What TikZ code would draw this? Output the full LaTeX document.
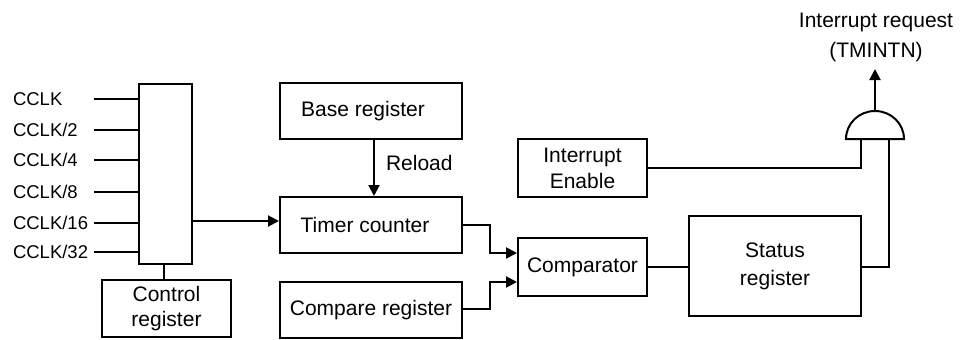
\documentclass[tikz,border=0pt]{standalone}
\usepackage{fontspec}
\setmainfont{Liberation Sans}
\usetikzlibrary{arrows.meta}
\begin{document}
\begin{tikzpicture}[x=1pt,y=-1pt,
  line width=2pt,
  box/.style={draw,rectangle,inner sep=0pt,align=center,font=\fontsize{21}{26}\selectfont},
  lbl/.style={inner sep=0pt,font=\fontsize{21}{26}\selectfont,align=center},
  clk/.style={inner sep=0pt,anchor=west,font=\fontsize{18.5}{22}\selectfont},
  wire/.style={line width=2pt},
  arr/.style={wire,-{Triangle[length=11pt,width=11pt]}}]
\useasboundingbox (0,0) rectangle (964,340);

% boxes
\node[box,minimum width=53pt,minimum height=180pt] (mux) at (165.5,174) {};
\node[box,minimum width=129pt,minimum height=57pt,font=\fontsize{21}{25.6}\selectfont] (ctrl) at (166.5,308.5) {Control\\register};
\node[box,minimum width=182pt,minimum height=56pt] (base) at (371,111) {\hspace*{-16pt}Base register};
\node[box,minimum width=182pt,minimum height=56pt] (timer) at (371,225) {\hspace*{-12pt}Timer counter};
\node[box,minimum width=182pt,minimum height=56pt] (cmpreg) at (371,310) {Compare register};
\node[box,minimum width=129pt,minimum height=58pt] (comp) at (582.5,267) {Comparator};
\node[box,minimum width=129pt,minimum height=58pt] (ie) at (582.5,168) {Interrupt\\Enable};
\node[box,minimum width=172pt,minimum height=100pt,font=\fontsize{21}{28}\selectfont] (status) at (775,266) {Status\\register};

% clock inputs
\foreach \n/\t/\y in {1/CCLK/99,2/CCLK\slash 2/130,3/CCLK\slash 4/160,4/CCLK\slash 8/192,5/CCLK\slash 16/223,6/CCLK\slash 32/252}{
  \node[clk] (l\n) at (12,\y) {\t};
  \coordinate (in\n) at (94,\y);
  \draw[wire] (in\n) -- (in\n -| mux.west);
}

% mux connections
\draw[arr] (mux.east |- 0,221) -- (timer.west |- 0,221);
\draw[wire] (mux.south -| 164,0) -- (ctrl.north -| 164,0);

% reload
\draw[arr] (base.south -| 374,0) -- (timer.north -| 374,0);
\node[lbl,anchor=west] (reload) at (385,163) {Reload};

% to comparator
\coordinate (j1) at (490,225);
\coordinate (j2) at (490,309);
\draw[arr] (timer.east |- j1) -- (j1) |- (comp.west |- 0,253);
\draw[arr] (cmpreg.east |- j2) -- (j2) |- (comp.west |- 0,282);

% comparator to status
\draw[wire] (comp.east |- 0,267) -- (status.west |- 0,267);

% AND gate
\coordinate (gin1) at (861,139);
\coordinate (gin2) at (889,139);
\coordinate (gout) at (875,111);
\coordinate (irq) at (875,69);
\draw[wire] (846,139) arc[start angle=180,end angle=0,x radius=29pt,y radius=28pt] -- cycle;

\draw[wire] (ie.east) -| (gin1);
\draw[wire] (status.east |- 0,267) -| (gin2);
\draw[arr] (gout) -- (irq);
\node[lbl,font=\fontsize{21}{30}\selectfont] (irqlbl) at (876,37) {Interrupt request\\(TMINTN)};
\end{tikzpicture}
\end{document}
